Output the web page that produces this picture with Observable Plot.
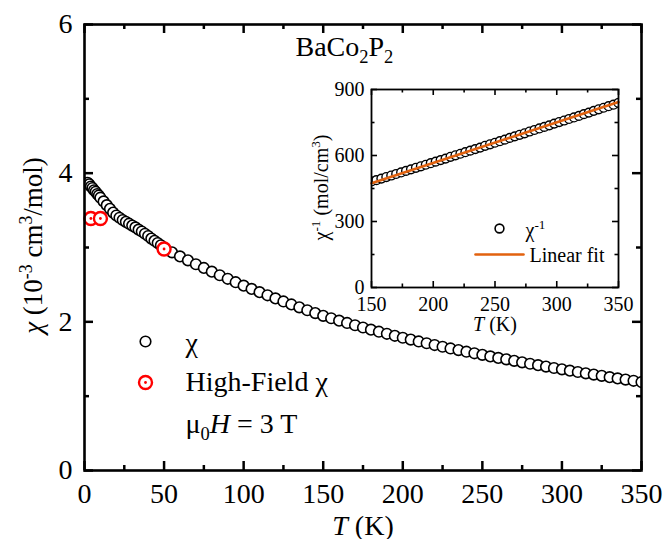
<!DOCTYPE html>
<html>
<head>
<meta charset="utf-8">
<script src="https://cdn.jsdelivr.net/npm/d3@7"></script>
<script src="https://cdn.jsdelivr.net/npm/@observablehq/plot@0.6"></script>
<style>
  html, body { margin: 0; padding: 0; background: white; }
  #wrap { position: relative; width: 664px; height: 539px; font-family: "Liberation Serif", serif; }
  #inset { position: absolute; left: 300px; top: 80px; }
  #wrap svg, #wrap svg text, #wrap svg tspan { font-family: "Liberation Serif", serif !important; font-variant: normal !important; }
</style>
</head>
<body>
<div id="wrap"><div id="main"></div><div id="inset"></div></div>
<script>
// ---- main panel data: chi (10^-3 cm^3/mol) vs T (K)
const chiT = [2,3,4,5,6,7,8,9,10,12,14,16,18,20,22,24,26,28,30,32,34,36,38,40,42,44,46,48,
  50,55,60,65,70,75,80,85,90,95,100,105,110,115,120,125,130,135,140,145,150,155,160,165,170,175,
  180,185,190,195,200,205,210,215,220,225,230,235,240,245,250,255,260,265,270,275,280,285,290,295,
  300,305,310,315,320,325,330,335,340,345,350];
const chiV = [3.87,3.85,3.82,3.80,3.77,3.75,3.72,3.70,3.67,3.62,3.57,3.52,3.47,3.43,3.40,3.37,3.345,3.32,3.295,3.27,3.24,3.215,3.185,3.155,3.12,3.09,3.06,3.03,
  2.990,2.935,2.880,2.827,2.775,2.725,2.675,2.627,2.579,2.533,2.487,2.443,2.399,2.357,2.315,2.274,2.234,2.195,2.156,2.118,2.081,2.048,2.016,1.985,1.954,1.924,
  1.895,1.867,1.839,1.812,1.786,1.761,1.736,1.712,1.688,1.665,1.642,1.620,1.598,1.577,1.556,1.535,1.515,1.495,1.475,1.455,1.436,1.417,1.398,1.379,
  1.361,1.343,1.325,1.307,1.290,1.273,1.256,1.239,1.223,1.207,1.190];
// high-field points (mu0H = 3 T)
const hfT = [4, 10, 50];
const hfV = [3.39, 3.39, 2.98];

// ---- inset data: 1/chi (mol/cm^3) vs T (K)
const invT = [150,154,158,162,166,170,174,178,182,186,190,194,198,202,206,210,214,218,222,226,230,234,238,242,246,
  250,254,258,262,266,270,274,278,282,286,290,294,298,302,306,310,314,318,322,326,330,334,338,342,346,350];
const invV = [482,488,495,502,509,516,523,530,537,544,551,558,565,572,579,586,594,601,608,615,622,629,636,644,651,
  658,665,672,680,687,694,701,709,716,723,730,737,745,752,759,766,773,780,788,795,803,810,817,824,831,839];
// linear fit end points
const fitT = [150, 350];
const fitV = [474, 843];

// ---- ticks
const xMajor = [0,50,100,150,200,250,300,350];
const xMinor = [25,75,125,175,225,275,325];
const yMajor = [0,2,4,6];
const yMinor = [1,3,5];
const ixMajor = [150,200,250,300,350];
const ixMinor = [175,225,275,325];
const iyMajor = [0,300,600,900];
const iyMinor = [150,450,750];

// ---- texts
const compound = "BaCo_{2}P_{2}";
const xTitle = "*T* (K)";
const yTitle = "*χ* (10^{-3} cm^{3}/mol)";
const legendMain = ["χ", "High-Field χ", "μ_{0}*H* = 3 T"];
const iyTitle = "χ^{-1} (mol/cm^{3})";
const legendInset = ["χ^{-1}", "Linear fit"];

const chiData = chiT.map((t, i) => ({T: t, v: chiV[i]}));
const hfData = hfT.map((t, i) => ({T: t, v: hfV[i]}));
const invData = invT.map((t, i) => ({T: t, v: invV[i]}));
const fitData = fitT.map((t, i) => ({T: t, v: fitV[i]}));

const font = "Liberation Serif";
const red = "#ff0000";
const orange = "#e2620f";
const fmt = d => String(d);

// main
const mW = 664, mH = 539, mL = 84, mR = 23, mT = 24, mB = 69;
const iwM = mW - mL - mR, ihM = mH - mT - mB;
const main = Plot.plot({
  width: mW, height: mH, marginLeft: mL, marginRight: mR, marginTop: mT, marginBottom: mB,
  style: {fontFamily: font, background: "white", color: "black", overflow: "visible"},
  x: {domain: [0, 350]},
  y: {domain: [0, 6]},
  marks: [
    Plot.dot(chiData, {x: "T", y: "v", r: 5.3, stroke: "black", strokeWidth: 1.6, fill: "white", clip: true}),
    Plot.dot(hfData, {x: "T", y: "v", r: 6.5, stroke: red, strokeWidth: 2.4, fill: "white"}),
    Plot.dot(hfData, {x: "T", y: "v", r: 1.4, fill: red}),
    Plot.tickX(xMajor, {x: d => d, insetTop: ihM - 9, strokeWidth: 2.5}),
    Plot.tickX(xMajor, {x: d => d, insetBottom: ihM - 9, strokeWidth: 2.5}),
    Plot.tickX(xMinor, {x: d => d, insetTop: ihM - 5, strokeWidth: 2.5}),
    Plot.tickX(xMinor, {x: d => d, insetBottom: ihM - 5, strokeWidth: 2.5}),
    Plot.tickY(yMajor, {y: d => d, insetRight: iwM - 9, strokeWidth: 2.5}),
    Plot.tickY(yMajor, {y: d => d, insetLeft: iwM - 9, strokeWidth: 2.5}),
    Plot.tickY(yMinor, {y: d => d, insetRight: iwM - 5, strokeWidth: 2.5}),
    Plot.tickY(yMinor, {y: d => d, insetLeft: iwM - 5, strokeWidth: 2.5}),
    Plot.frame({stroke: "black", strokeWidth: 2.6}),
    Plot.axisX(xMajor, {tickSize: 0, tickPadding: 13, fontSize: 28, fontFamily: font, tickFormat: fmt, label: null}),
    Plot.axisY(yMajor, {tickSize: 0, tickPadding: 12, fontSize: 28, fontFamily: font, tickFormat: fmt, label: null}),
    Plot.text([xTitle], {frameAnchor: "bottom", dy: 64, fontSize: 28, fontFamily: font, lineAnchor: "bottom"}),
    Plot.text([yTitle], {frameAnchor: "left", dx: -43, rotate: -90, fontSize: 27, fontFamily: font, lineAnchor: "bottom", className: "ytitle-main"}),
    Plot.text([compound], {frameAnchor: "top-left", dx: 211, dy: 31, fontSize: 28, fontFamily: font, textAnchor: "start", lineAnchor: "bottom"}),
    // legend
    Plot.dot([0], {frameAnchor: "top-left", dx: 61, dy: 317, r: 5.3, stroke: "black", strokeWidth: 1.6, fill: "white"}),
    Plot.dot([0], {frameAnchor: "top-left", dx: 61, dy: 358, r: 6.5, stroke: red, strokeWidth: 2.4, fill: "white"}),
    Plot.dot([0], {frameAnchor: "top-left", dx: 61, dy: 358, r: 1.4, fill: red}),
    Plot.text([legendMain[0]], {frameAnchor: "top-left", dx: 101, dy: 327, fontSize: 28, fontFamily: font, textAnchor: "start", lineAnchor: "bottom"}),
    Plot.text([legendMain[1]], {frameAnchor: "top-left", dx: 101, dy: 366, fontSize: 28, fontFamily: font, textAnchor: "start", lineAnchor: "bottom"}),
    Plot.text([legendMain[2]], {frameAnchor: "top-left", dx: 101, dy: 408, fontSize: 28, fontFamily: font, textAnchor: "start", lineAnchor: "bottom"})
  ]
});
document.getElementById("main").appendChild(main);

// inset
const nW = 330, nH = 260, nL = 71, nR = 12, nT = 9, nB = 53;
const iwN = nW - nL - nR, ihN = nH - nT - nB;
const inset = Plot.plot({
  width: nW, height: nH, marginLeft: nL, marginRight: nR, marginTop: nT, marginBottom: nB,
  style: {fontFamily: font, background: "transparent", color: "black", overflow: "visible"},
  x: {domain: [150, 350]},
  y: {domain: [0, 900]},
  marks: [
    Plot.frame({fill: "white"}),
    Plot.dot(invData, {x: "T", y: "v", r: 4.4, stroke: "black", strokeWidth: 1.4, fill: "white", clip: true}),
    Plot.line(fitData, {x: "T", y: "v", stroke: orange, strokeWidth: 2.6}),
    Plot.tickX(ixMajor, {x: d => d, insetTop: ihN - 6, strokeWidth: 1.6}),
    Plot.tickX(ixMajor, {x: d => d, insetBottom: ihN - 6, strokeWidth: 1.6}),
    Plot.tickX(ixMinor, {x: d => d, insetTop: ihN - 3.5, strokeWidth: 1.6}),
    Plot.tickX(ixMinor, {x: d => d, insetBottom: ihN - 3.5, strokeWidth: 1.6}),
    Plot.tickY(iyMajor, {y: d => d, insetRight: iwN - 6, strokeWidth: 1.6}),
    Plot.tickY(iyMajor, {y: d => d, insetLeft: iwN - 6, strokeWidth: 1.6}),
    Plot.tickY(iyMinor, {y: d => d, insetRight: iwN - 3.5, strokeWidth: 1.6}),
    Plot.tickY(iyMinor, {y: d => d, insetLeft: iwN - 3.5, strokeWidth: 1.6}),
    Plot.frame({stroke: "black", strokeWidth: 1.8}),
    Plot.axisX(ixMajor, {tickSize: 0, tickPadding: 9, fontSize: 20, fontFamily: font, tickFormat: fmt, label: null}),
    Plot.axisY(iyMajor, {tickSize: 0, tickPadding: 7, fontSize: 20, fontFamily: font, tickFormat: fmt, label: null}),
    Plot.text([xTitle], {frameAnchor: "bottom", dy: 43, fontSize: 20, fontFamily: font, lineAnchor: "bottom"}),
    Plot.text([iyTitle], {frameAnchor: "left", dx: -44, rotate: -90, fontSize: 20, fontFamily: font, lineAnchor: "bottom", className: "ytitle-inset"}),
    // legend
    Plot.dot([0], {frameAnchor: "top-left", dx: 128, dy: 139, r: 4.4, stroke: "black", strokeWidth: 1.6, fill: "white"}),
    Plot.text([legendInset[0]], {frameAnchor: "top-left", dx: 154, dy: 147, fontSize: 20, fontFamily: font, textAnchor: "start", lineAnchor: "bottom"}),
    Plot.vector([0], {frameAnchor: "top-left", dx: 104, dy: 165, length: 48, rotate: 90, anchor: "start",
      stroke: orange, strokeWidth: 2.6,
      shape: {draw(ctx, l) { ctx.moveTo(0, 0); ctx.lineTo(0, -l); }}}),
    Plot.text([legendInset[1]], {frameAnchor: "top-left", dx: 158, dy: 172, fontSize: 20, fontFamily: font, textAnchor: "start", lineAnchor: "bottom"})
  ]
});
document.getElementById("inset").appendChild(inset);

// rich text: ^{sup}, _{sub}, *italic*
const SVGNS = "http://www.w3.org/2000/svg";
function rich(el) {
  const s = el.textContent;
  if (!/(\^\{|_\{|\*)/.test(s)) return;
  const fs = parseFloat(getComputedStyle(el).fontSize) || 20;
  while (el.firstChild) el.removeChild(el.firstChild);
  for (const part of s.split(/(\^\{[^}]*\}|_\{[^}]*\}|\*[^*]*\*)/)) {
    if (!part) continue;
    let txt = part, shift = 0, small = false, italic = false;
    if (part.startsWith("^{")) { txt = part.slice(2, -1); shift = 0.38 * fs; small = true; }
    else if (part.startsWith("_{")) { txt = part.slice(2, -1); shift = -0.24 * fs; small = true; }
    else if (part.length > 1 && part.startsWith("*") && part.endsWith("*")) { txt = part.slice(1, -1); italic = true; }
    const t = document.createElementNS(SVGNS, "tspan");
    t.textContent = txt;
    if (shift) t.setAttribute("baseline-shift", shift);
    if (small) t.setAttribute("font-size", 0.66 * fs);
    if (italic) t.setAttribute("font-style", "italic");
    el.appendChild(t);
  }
}
document.querySelectorAll("#wrap svg text").forEach(rich);

// keep the rotated axis titles centred on their frames (vertical centre in page pixels)
function centreRotated(sel, targetY) {
  const el = document.querySelector(sel + " text");
  if (!el) return;
  el.setAttribute("text-anchor", "middle");
  const r = el.getBoundingClientRect();
  const w = document.getElementById("wrap").getBoundingClientRect();
  const cy = r.top + r.height / 2 - w.top;
  const d = targetY - cy;
  el.setAttribute("x", (parseFloat(el.getAttribute("x")) || 0) - d);
}
centreRotated(".ytitle-main", mT + ihM / 2);
centreRotated(".ytitle-inset", 80 + nT + ihN / 2);
</script>
</body>
</html>
